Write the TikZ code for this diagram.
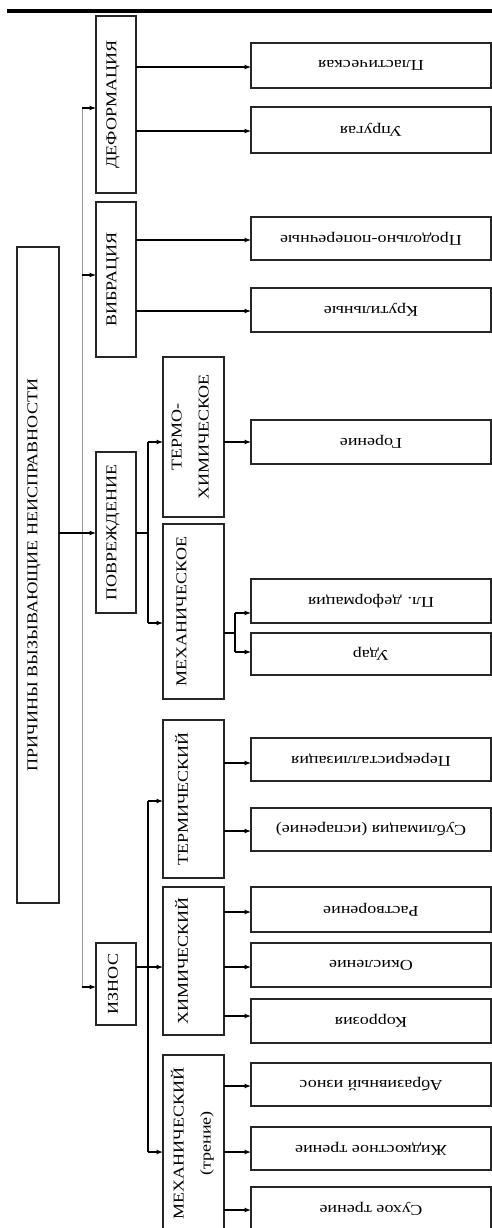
\documentclass[tikz,border=0pt]{standalone}
\usepackage{fontspec}
\setmainfont{Liberation Serif}[FakeStretch=1.2]
\usetikzlibrary{arrows.meta}
\newcommand\liftbox[2]{\raisebox{#1}[\height][\depth]{#2}}
\begin{document}
\begin{tikzpicture}[x=1pt,y=-1pt,
  box/.style={draw=black!85,line width=1.1pt,inner sep=0pt,outer sep=0pt,
              fill=white,font=\fontsize{15}{18}\selectfont},
  leaf/.style={box,minimum width=240pt},
  lvltwo/.style={box,minimum width=40pt},
  lvlthree/.style={box,minimum width=61pt},
  link/.style={line width=1.1pt,black},
  arr/.style={link,-{Latex[length=6.5pt,width=5pt]}},
  trunk/.style={line width=1pt,gray!80}]
\useasboundingbox (0,0) rectangle (492,1228);
\clip (0,0) rectangle (492,1228);
% top rule
\fill[black] (7,9.5) rectangle (492,12.7);
% root
\node[box,minimum width=42pt,minimum height=656pt] (root) at (38,575)
  {\rotatebox{90}{\liftbox{4pt}{ПРИЧИНЫ ВЫЗЫВАЮЩИЕ НЕИСПРАВНОСТИ}}};
% level 2
\node[lvltwo,minimum height=177pt] (def) at (116,104.5) {\rotatebox{90}{\liftbox{3pt}{ДЕФОРМАЦИЯ}}};
\node[lvltwo,minimum height=155pt] (vib) at (116,279.5) {\rotatebox{90}{\liftbox{3pt}{ВИБРАЦИЯ}}};
\node[lvltwo,minimum height=161pt] (pov) at (116,532.5) {\rotatebox{90}{\liftbox{3pt}{ПОВРЕЖДЕНИЕ}}};
\node[lvltwo,minimum height=82pt] (izn) at (116,984) {\rotatebox{90}{\liftbox{3pt}{ИЗНОС}}};
% level 3
\node[lvlthree,minimum height=160pt] (tx) at (193.5,437)
  {\rotatebox{90}{\liftbox{2pt}{\begin{tabular}{@{}c@{}}ТЕРМО-\\[9pt]ХИМИЧЕСКОЕ\end{tabular}}}};
\node[lvlthree,minimum height=175pt] (mexa) at (193.5,611.5) {\rotatebox{90}{\liftbox{12pt}{МЕХАНИЧЕСКОЕ}}};
\node[lvlthree,minimum height=158pt] (term) at (193.5,799) {\rotatebox{90}{\liftbox{12pt}{ТЕРМИЧЕСКИЙ}}};
\node[lvlthree,minimum height=148pt] (chem) at (193.5,961) {\rotatebox{90}{\liftbox{12pt}{ХИМИЧЕСКИЙ}}};
\node[lvlthree,minimum height=177pt] (mexb) at (193.5,1143.5)
  {\rotatebox{90}{\begin{tabular}{@{}c@{}}МЕХАНИЧЕСКИЙ\\[9pt](трение)\end{tabular}}};
% leaves
\node[leaf,minimum height=45pt] (pl) at (371,65.5) {\rotatebox{180}{Пластическая}};
\node[leaf,minimum height=46pt] (upr) at (371,130) {\rotatebox{180}{Упругая}};
\node[leaf,minimum height=43pt] (prod) at (371,238.5) {\rotatebox{180}{Продольно-поперечные}};
\node[leaf,minimum height=44pt] (krut) at (371,310) {\rotatebox{180}{Крутильные}};
\node[leaf,minimum height=44pt] (gor) at (371,442) {\rotatebox{180}{Горение}};
\node[leaf,minimum height=44pt] (pld) at (371,601) {\rotatebox{180}{Пл. деформация}};
\node[leaf,minimum height=42pt] (udar) at (371,654) {\rotatebox{180}{Удар}};
\node[leaf,minimum height=43pt] (perek) at (371,759.5) {\rotatebox{180}{Перекристаллизация}};
\node[leaf,minimum height=43pt] (subl) at (371,829.5) {\rotatebox{180}{Сублимация (испарение)}};
\node[leaf,minimum height=45pt] (rast) at (371,909.5) {\rotatebox{180}{Растворение}};
\node[leaf,minimum height=44pt] (okis) at (371,965) {\rotatebox{180}{Окисление}};
\node[leaf,minimum height=44pt] (korr) at (371,1021) {\rotatebox{180}{Коррозия}};
\node[leaf,minimum height=43pt] (abr) at (371,1084.5) {\rotatebox{180}{Абразивный износ}};
\node[leaf,minimum height=43pt] (zhid) at (371,1148.5) {\rotatebox{180}{Жидкостное трение}};
\node[leaf,minimum height=44pt] (such) at (371,1209) {\rotatebox{180}{Сухое трение}};
% trunk from root
\coordinate (t1) at (82,108);
\coordinate (t2) at (82,275);
\coordinate (t3) at (82,987);
\draw[trunk] (t1) -- (t3);
\draw[arr] (t1) -- (def.west |- t1);
\draw[arr] (t2) -- (vib.west |- t2);
\draw[arr] (t3) -- (izn.west |- t3);
\draw[arr] (root.east |- 0,533) -- (pov.west |- 0,533);
% povrezhdenie fork
\coordinate (pv) at (148,533);
\coordinate (pvT) at (148,442);
\coordinate (pvB) at (148,623);
\draw[link] (pov.east |- pv) -- (pv);
\draw[link] (pvT) -- (pvB);
\draw[arr] (pvT) -- (tx.west |- pvT);
\draw[arr] (pvB) -- (mexa.west |- pvB);
% iznos fork
\coordinate (iz) at (148,967);
\coordinate (izT) at (148,801);
\coordinate (izB) at (148,1152);
\draw[link] (izn.east |- iz) -- (iz);
\draw[link] (izT) -- (izB);
\draw[arr] (izT) -- (term.west |- izT);
\draw[arr] (iz) -- (chem.west |- iz);
\draw[arr] (izB) -- (mexb.west |- izB);
% mechanical damage fork
\coordinate (mf) at (235,633);
\coordinate (mfT) at (235,613);
\coordinate (mfB) at (235,652);
\draw[link] (mexa.east |- mf) -- (mf);
\draw[link] (mfT) -- (mfB);
\draw[arr] (mfT) -- (pld.west |- mfT);
\draw[arr] (mfB) -- (udar.west |- mfB);
% leaf arrows
\draw[arr] (def.east |- 0,67) -- (pl.west |- 0,67);
\draw[arr] (def.east |- 0,131) -- (upr.west |- 0,131);
\draw[arr] (vib.east |- 0,240) -- (prod.west |- 0,240);
\draw[arr] (vib.east |- 0,311) -- (krut.west |- 0,311);
\draw[arr] (tx.east |- 0,442) -- (gor.west |- 0,442);
\draw[arr] (term.east |- 0,763) -- (perek.west |- 0,763);
\draw[arr] (term.east |- 0,831) -- (subl.west |- 0,831);
\draw[arr] (chem.east |- 0,912) -- (rast.west |- 0,912);
\draw[arr] (chem.east |- 0,967) -- (okis.west |- 0,967);
\draw[arr] (chem.east |- 0,1016) -- (korr.west |- 0,1016);
\draw[arr] (mexb.east |- 0,1086) -- (abr.west |- 0,1086);
\draw[arr] (mexb.east |- 0,1152) -- (zhid.west |- 0,1152);
\draw[arr] (mexb.east |- 0,1210) -- (such.west |- 0,1210);
\end{tikzpicture}
\end{document}
